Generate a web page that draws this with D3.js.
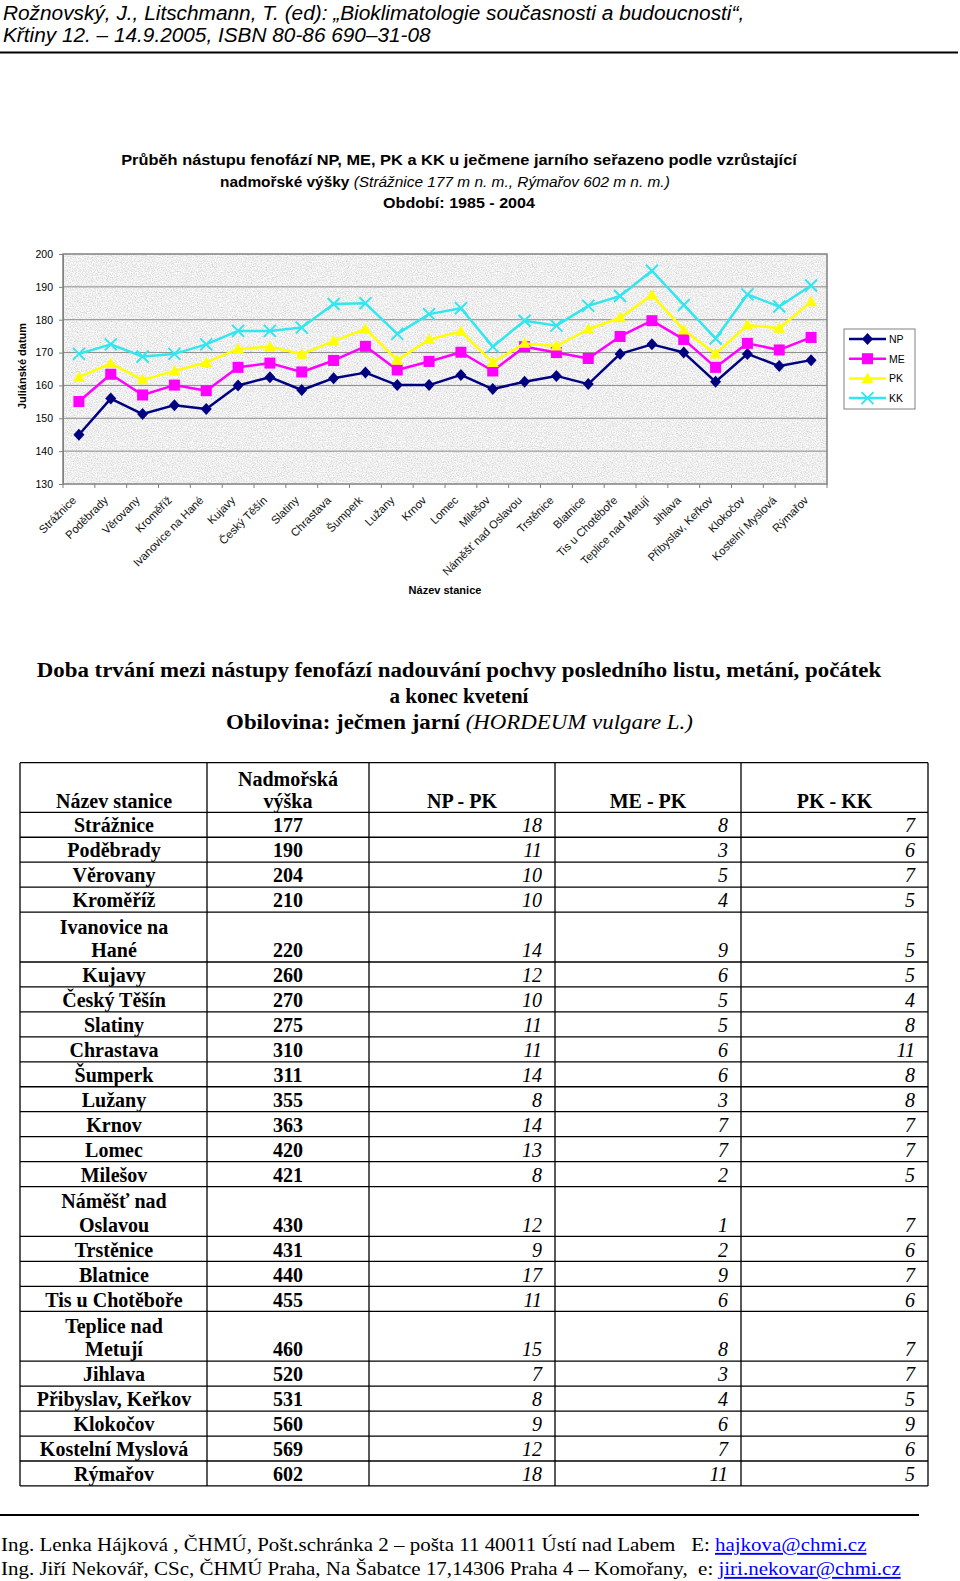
<!DOCTYPE html>
<html>
<head>
<meta charset="utf-8">
<script src="https://cdn.jsdelivr.net/npm/d3@7"></script>
<style>
  body { margin: 0; background: #fff; }
  svg { display: block; }
</style>
</head>
<body>
<svg id="page" width="960" height="1581"></svg>
<script>
// ---------------- DATA ----------------
const stations = ["Strážnice","Poděbrady","Věrovany","Kroměříž","Ivanovice na Hané","Kujavy","Český Těšín","Slatiny","Chrastava","Šumperk","Lužany","Krnov","Lomec","Milešov","Náměšť nad Oslavou","Trstěnice","Blatnice","Tis u Chotěboře","Teplice nad Metují","Jihlava","Přibyslav, Keřkov","Klokočov","Kostelní Myslová","Rýmařov"];
const seriesNames = ["NP","ME","PK","KK"];
const npValues = [145,156,151.3,154,152.8,160,162.5,158.6,162.2,163.9,160.1,160.1,163.2,158.9,161.1,162.9,160.4,169.6,172.5,170,161.1,169.6,165.9,167.7];
const meValues = [155.1,163.4,157.1,160.1,158.4,165.5,166.8,164.1,167.6,171.9,164.7,167.3,170.1,164.4,171.8,170,168.2,174.9,179.7,174,165.5,172.8,170.8,174.6];
const pkValues = [162.5,166.7,161.7,164.4,167,171.1,171.8,169.5,173.5,177.2,167.7,174,176.4,167,172.8,172,177.1,180.6,187.5,176.9,169.6,178.4,177.4,185.5];
const kkValues = [169.6,172.5,168.8,169.6,172.5,176.6,176.6,177.6,184.8,185,175.7,181.7,183.5,171.8,179.7,178.2,184.2,187.2,194.9,184.5,174.3,187.7,184,190.4];
const yTicks = [130,140,150,160,170,180,190,200];

const tableHeaders = [["Název stanice"],["Nadmořská","výška"],["NP - PK"],["ME - PK"],["PK - KK"]];
const tableNames = [["Strážnice"],["Poděbrady"],["Věrovany"],["Kroměříž"],["Ivanovice na","Hané"],["Kujavy"],["Český Těšín"],["Slatiny"],["Chrastava"],["Šumperk"],["Lužany"],["Krnov"],["Lomec"],["Milešov"],["Náměšť nad","Oslavou"],["Trstěnice"],["Blatnice"],["Tis u Chotěboře"],["Teplice nad","Metují"],["Jihlava"],["Přibyslav, Keřkov"],["Klokočov"],["Kostelní Myslová"],["Rýmařov"]];
const altitudes = [177,190,204,210,220,260,270,275,310,311,355,363,420,421,430,431,440,455,460,520,531,560,569,602];
const npPk = [18,11,10,10,14,12,10,11,11,14,8,14,13,8,12,9,17,11,15,7,8,9,12,18];
const mePk = [8,3,5,4,9,6,5,5,6,6,3,7,7,2,1,2,9,6,8,3,4,6,7,11];
const pkKk = [7,6,7,5,5,5,4,8,11,8,8,7,7,5,7,6,7,6,7,7,5,9,6,5];

// ---------------- HELPERS ----------------
const svg = d3.select("#page");
const SANS = "'Liberation Sans', Arial, sans-serif";
const SERIF = "'Liberation Serif', 'Times New Roman', serif";

function fitText(parts, opts) {
  const g = svg.append("g");
  const t = g.append("text").attr("x", 0).attr("y", 0)
    .attr("font-family", opts.family).attr("font-size", opts.size)
    .attr("text-anchor", opts.anchor || "start").attr("fill", "#000")
    .style("white-space", "pre");
  parts.forEach(p => {
    const ts = t.append("tspan").text(p.text);
    if (p.weight) ts.attr("font-weight", p.weight);
    if (p.style) ts.attr("font-style", p.style);
    if (p.fill) ts.attr("fill", p.fill);
    if (p.deco) ts.attr("text-decoration", p.deco);
  });
  let s = 1;
  if (opts.width) s = opts.width / t.node().getComputedTextLength();
  g.attr("transform", `translate(${opts.x},${opts.y}) scale(${s},1)`);
  return g;
}

// ---------------- PAGE HEADER ----------------
fitText([{text: "Rožnovský, J., Litschmann, T. (ed): „Bioklimatologie současnosti a budoucnosti“,", style: "italic"}],
  {family: SANS, size: 20, x: 3, y: 20, width: 742});
fitText([{text: "Křtiny 12. – 14.9.2005, ISBN 80-86 690–31-08", style: "italic"}],
  {family: SANS, size: 20, x: 3, y: 42, width: 428});
svg.append("line").attr("x1", 0).attr("x2", 958).attr("y1", 52.5).attr("y2", 52.5)
  .attr("stroke", "#000").attr("stroke-width", 2);

// ---------------- CHART TITLE ----------------
fitText([{text: "Průběh nástupu fenofází NP, ME, PK a KK u ječmene jarního seřazeno podle vzrůstající", weight: "bold"}],
  {family: SANS, size: 15.5, x: 459, y: 165, width: 676, anchor: "middle"});
fitText([{text: "nadmořské výšky ", weight: "bold"}, {text: "(Strážnice 177 m n. m., Rýmařov 602 m n. m.)", style: "italic"}],
  {family: SANS, size: 15.5, x: 220, y: 187, width: 450});
fitText([{text: "Období: 1985 - 2004", weight: "bold"}],
  {family: SANS, size: 15.5, x: 459, y: 208, width: 152, anchor: "middle"});

// ---------------- CHART ----------------
const plot = {l: 63, r: 827, t: 254, b: 484};
const x = d3.scaleBand().domain(stations).range([plot.l, plot.r]);
const y = d3.scaleLinear().domain([130, 200]).range([plot.b, plot.t]);

const defs = svg.append("defs");
const f = defs.append("filter").attr("id", "granite")
  .attr("x", 0).attr("y", 0).attr("width", 1).attr("height", 1)
  .attr("filterUnits", "objectBoundingBox");
f.append("feTurbulence").attr("type", "fractalNoise").attr("baseFrequency", 0.8)
  .attr("numOctaves", 3).attr("seed", 7).attr("result", "noise");
f.append("feColorMatrix").attr("in", "noise").attr("type", "matrix")
  .attr("values", "0.6 0 0 0 0.56  0.6 0 0 0 0.56  0.6 0 0 0 0.56  0 0 0 0 1");

svg.append("rect").attr("x", plot.l).attr("y", plot.t)
  .attr("width", plot.r - plot.l).attr("height", plot.b - plot.t)
  .attr("fill", "#d8d8d8").attr("filter", "url(#granite)");

svg.append("g").selectAll("line").data(yTicks.filter(v => v > 130 && v < 200)).join("line")
  .attr("x1", plot.l).attr("x2", plot.r)
  .attr("y1", d => y(d)).attr("y2", d => y(d))
  .attr("stroke", "#8a8a8a").attr("stroke-width", 1);

svg.append("rect").attr("x", plot.l).attr("y", plot.t)
  .attr("width", plot.r - plot.l).attr("height", plot.b - plot.t)
  .attr("fill", "none").attr("stroke", "#808080").attr("stroke-width", 1.5);

const yAxis = svg.append("g").attr("transform", `translate(${plot.l},0)`)
  .call(d3.axisLeft(y).tickValues(yTicks).tickSize(4).tickPadding(6).tickFormat(d3.format("d")));
yAxis.select(".domain").attr("stroke", "#808080");
yAxis.selectAll(".tick line").attr("stroke", "#808080");
yAxis.selectAll(".tick text").attr("font-family", SANS).attr("font-size", 10.5).attr("fill", "#000");

svg.append("text").attr("transform", `translate(26,366) rotate(-90)`)
  .attr("text-anchor", "middle").attr("font-family", SANS).attr("font-size", 11)
  .attr("font-weight", "bold").text("Juliánské datum");

const bounds = stations.map(s => x(s)).concat([plot.r]);
svg.append("g").selectAll("line").data(bounds).join("line")
  .attr("x1", d => d).attr("x2", d => d).attr("y1", plot.b).attr("y2", plot.b + 4)
  .attr("stroke", "#808080");

svg.append("g").selectAll("text").data(stations).join("text")
  .attr("transform", d => `translate(${x(d) + x.bandwidth() / 2 - 2},${plot.b + 17}) rotate(-45)`)
  .attr("text-anchor", "end").attr("font-family", SANS).attr("font-size", 11.3)
  .attr("fill", "#111").text(d => d);

svg.append("text").attr("x", 445).attr("y", 594).attr("text-anchor", "middle")
  .attr("font-family", SANS).attr("font-size", 11).attr("font-weight", "bold").text("Název stanice");

function marker(sel, kind, color) {
  if (kind === "diamond") {
    sel.append("path").attr("d", "M0,-6L5.5,0L0,6L-5.5,0Z").attr("fill", color);
  } else if (kind === "square") {
    sel.append("rect").attr("x", -5.5).attr("y", -5.5).attr("width", 11).attr("height", 11).attr("fill", color);
  } else if (kind === "triangle") {
    sel.append("path").attr("d", "M0,-6L6,4.5L-6,4.5Z").attr("fill", color);
  } else {
    sel.append("path").attr("d", "M-6,-6L6,6M-6,6L6,-6").attr("stroke", color)
      .attr("stroke-width", 2).attr("fill", "none");
  }
}

const series = [
  {name: "NP", values: npValues, color: "#000080", kind: "diamond"},
  {name: "ME", values: meValues, color: "#ff00ff", kind: "square"},
  {name: "PK", values: pkValues, color: "#ffff00", kind: "triangle"},
  {name: "KK", values: kkValues, color: "#33e6ee", kind: "x"}
];
const line = d3.line().x((d, i) => x(stations[i]) + x.bandwidth() / 2).y(d => y(d));

series.forEach(s => {
  const g = svg.append("g");
  g.append("path").attr("d", line(s.values)).attr("fill", "none")
    .attr("stroke", s.color).attr("stroke-width", 2.5).attr("stroke-linejoin", "round");
  s.values.forEach((v, i) => {
    const m = g.append("g").attr("transform", `translate(${x(stations[i]) + x.bandwidth() / 2},${y(v)})`);
    marker(m, s.kind, s.color);
  });
});

const lg = svg.append("g");
lg.append("rect").attr("x", 844).attr("y", 329).attr("width", 71).attr("height", 80)
  .attr("fill", "#fff").attr("stroke", "#808080").attr("stroke-width", 1);
series.forEach((s, i) => {
  const yy = 339 + i * 19.7;
  lg.append("line").attr("x1", 849).attr("x2", 886).attr("y1", yy).attr("y2", yy)
    .attr("stroke", s.color).attr("stroke-width", 2.5);
  marker(lg.append("g").attr("transform", `translate(867.5,${yy})`), s.kind, s.color);
  lg.append("text").attr("x", 889).attr("y", yy + 4).attr("font-family", SANS)
    .attr("font-size", 10.5).text(s.name);
});

// ---------------- TABLE TITLE ----------------
fitText([{text: "Doba trvání mezi nástupy fenofází nadouvání pochvy posledního listu, metání, počátek", weight: "bold"}],
  {family: SERIF, size: 21, x: 459, y: 677, width: 845, anchor: "middle"});
fitText([{text: "a konec kvetení", weight: "bold"}],
  {family: SERIF, size: 21, x: 459, y: 703, anchor: "middle"});
fitText([{text: "Obilovina: ječmen jarní ", weight: "bold"}, {text: "(HORDEUM vulgare L.)", style: "italic"}],
  {family: SERIF, size: 21, x: 459.5, y: 729, width: 467, anchor: "middle"});

// ---------------- TABLE ----------------
const colX = [20, 207, 369, 555, 741, 928];
const tableTop = 762.7;
const headerH = 49.6, lineH = 24.95;
const rowHeights = tableNames.map(n => n.length * lineH);
const rowTops = [];
let acc = tableTop + headerH;
rowHeights.forEach(h => { rowTops.push(acc); acc += h; });
const tableBottom = acc;

const tg = svg.append("g");
const hLines = [tableTop, tableTop + headerH].concat(rowTops.slice(1)).concat([tableBottom]);
tg.selectAll("line.h").data(hLines).join("line").attr("class", "h")
  .attr("x1", colX[0]).attr("x2", colX[5]).attr("y1", d => d).attr("y2", d => d)
  .attr("stroke", "#000").attr("stroke-width", 1.3);
tg.selectAll("line.v").data(colX).join("line").attr("class", "v")
  .attr("x1", d => d).attr("x2", d => d).attr("y1", tableTop).attr("y2", tableBottom)
  .attr("stroke", "#000").attr("stroke-width", 1.3);

const centers = [114, 288, 462, 648, 834.5];
tableHeaders.forEach((lines, c) => {
  lines.forEach((l, k) => {
    tg.append("text").attr("x", centers[c])
      .attr("y", tableTop + headerH - 4.5 - (lines.length - 1 - k) * 22)
      .attr("text-anchor", "middle").attr("font-family", SERIF).attr("font-size", 20)
      .attr("font-weight", "bold").text(l);
  });
});

tableNames.forEach((lines, r) => {
  const bottom = rowTops[r] + rowHeights[r];
  const base = bottom - 4.8;
  lines.forEach((l, k) => {
    tg.append("text").attr("x", centers[0]).attr("y", base - (lines.length - 1 - k) * 23.4)
      .attr("text-anchor", "middle").attr("font-family", SERIF).attr("font-size", 20)
      .attr("font-weight", "bold").text(l);
  });
  tg.append("text").attr("x", centers[1]).attr("y", base).attr("text-anchor", "middle")
    .attr("font-family", SERIF).attr("font-size", 20).attr("font-weight", "bold").text(altitudes[r]);
  [npPk, mePk, pkKk].forEach((arr, c) => {
    tg.append("text").attr("x", colX[c + 3] - 13).attr("y", base).attr("text-anchor", "end")
      .attr("font-family", SERIF).attr("font-size", 20).attr("font-style", "italic").text(arr[r]);
  });
});

// ---------------- FOOTER ----------------
svg.append("line").attr("x1", 0).attr("x2", 919).attr("y1", 1515).attr("y2", 1515)
  .attr("stroke", "#000").attr("stroke-width", 2);
fitText([{text: "Ing. Lenka Hájková , ČHMÚ, Pošt.schránka 2 – pošta 11 40011 Ústí nad Labem\u00a0\u00a0\u00a0E: "},
         {text: "hajkova@chmi.cz", fill: "#0000ff", deco: "underline"}],
  {family: SERIF, size: 19, x: 1, y: 1551, width: 866});
fitText([{text: "Ing. Jiří Nekovář, CSc, ČHMÚ Praha, Na Šabatce 17,14306 Praha 4 – Komořany,\u00a0 e: "},
         {text: "jiri.nekovar@chmi.cz", fill: "#0000ff", deco: "underline"}],
  {family: SERIF, size: 19, x: 1, y: 1575, width: 900});
</script>
</body>
</html>
